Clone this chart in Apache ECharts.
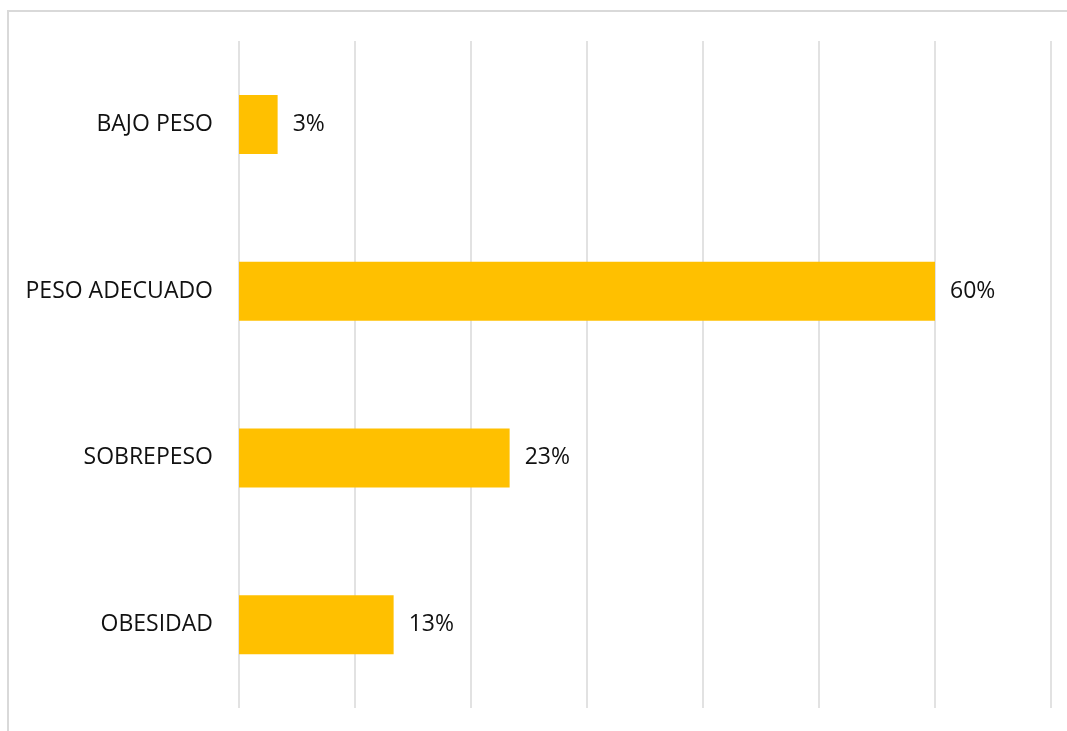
<!DOCTYPE html>
<html>
<head>
<meta charset="utf-8">
<script src="https://cdn.jsdelivr.net/npm/echarts@6/dist/echarts.min.js"></script>
<style>
  html, body { margin: 0; padding: 0; background: #fff; }
  #chart { width: 1067px; height: 731px; }
</style>
</head>
<body>
<div id="chart"></div>
<script>
// categorias de arriba hacia abajo
const categories = ['BAJO PESO', 'PESO ADECUADO', 'SOBREPESO', 'OBESIDAD']
const values = [3.33, 60, 23.33, 13.33]
const axisMax = 70
const axisStep = 10

const chart = echarts.init(document.getElementById('chart'))
const option = {
  animation: false,
  backgroundColor: '#fff',
  graphic: [
    {
      type: 'rect',
      shape: { x: 8, y: 11, width: 1200, height: 900 },
      style: { fill: 'none', stroke: '#d9d9d9', lineWidth: 2 },
      silent: true,
    },
  ],
  grid: {
    left: 239,
    right: 16,
    top: 41,
    bottom: 23,
  },
  xAxis: {
    type: 'value',
    min: 0,
    max: axisMax,
    interval: axisStep,
    axisLabel: { show: false },
    axisLine: { show: false },
    axisTick: { show: false },
    splitLine: { lineStyle: { color: '#d9d9d9', width: 1.5 } },
  },
  yAxis: {
    type: 'category',
    inverse: true,
    data: categories,
    axisLine: { show: false },
    axisTick: { show: false },
    axisLabel: {
      margin: 26,
      color: '#111',
      fontSize: 23,
      fontFamily: 'Open Sans',
    },
  },
  series: [
    {
      type: 'bar',
      data: values,
      barWidth: 59,
      itemStyle: { color: '#ffc000' },
      label: {
        show: true,
        position: 'right',
        distance: 15,
        color: '#111',
        fontSize: 23,
        fontFamily: 'Open Sans',
        formatter: (p) => Math.round(p.value) + '%',
      },
    },
  ],
}
chart.setOption(option, true)
</script>
</body>
</html>
